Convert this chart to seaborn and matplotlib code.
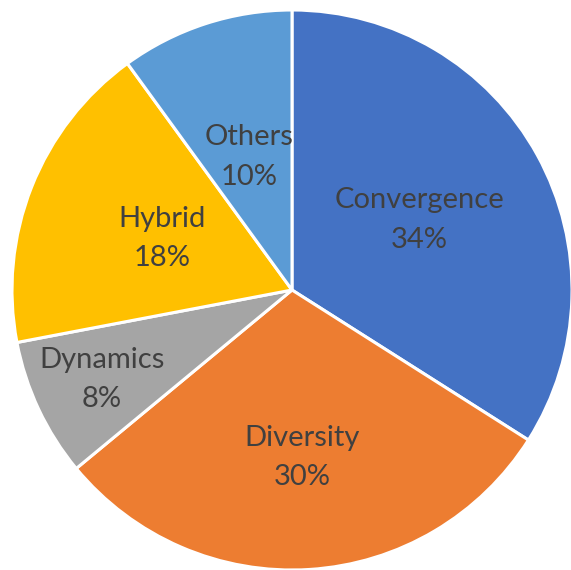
import numpy as np
import matplotlib
matplotlib.use("Agg")
import matplotlib.pyplot as plt
import seaborn as sns

categories = ["Convergence", "Diversity", "Dynamics", "Hybrid", "Others"]
shares = [34, 30, 8, 18, 10]
colors = ["#4472C4", "#ED7D31", "#A5A5A5", "#FFC000", "#5B9BD5"]
# radial position of each label, as a fraction of the radius
label_radius = [0.52, 0.60, 0.75, 0.50, 0.50]

sns.set_theme(style="white")
plt.rcParams["font.family"] = ["Lato", "DejaVu Sans"]

W, H = 571, 570
fig = plt.figure(figsize=(W / 100, H / 100), dpi=100)
# pie occupies a 560 px square centred at (292, 290) from top-left
r_px = 280
cx, cy = 292, 290
ax = fig.add_axes([(cx - r_px) / W, (H - cy - r_px) / H, 2 * r_px / W, 2 * r_px / H])

wedges, _ = ax.pie(
    shares,
    colors=colors,
    startangle=90,
    counterclock=False,
    radius=1.0,
    wedgeprops=dict(edgecolor="white", linewidth=2.2),
)
for w in wedges:
    w.set_clip_on(False)

for w, name, val, d in zip(wedges, categories, shares, label_radius):
    mid = np.deg2rad((w.theta1 + w.theta2) / 2)
    ax.text(d * np.cos(mid), d * np.sin(mid), f"{name}\n{val}%",
            ha="center", va="center", fontsize=21, color="#404040",
            linespacing=1.65)

ax.set_xlim(-1, 1)
ax.set_ylim(-1, 1)
ax.set_aspect("equal")
ax.axis("off")

fig.savefig("out.png", dpi=100)
